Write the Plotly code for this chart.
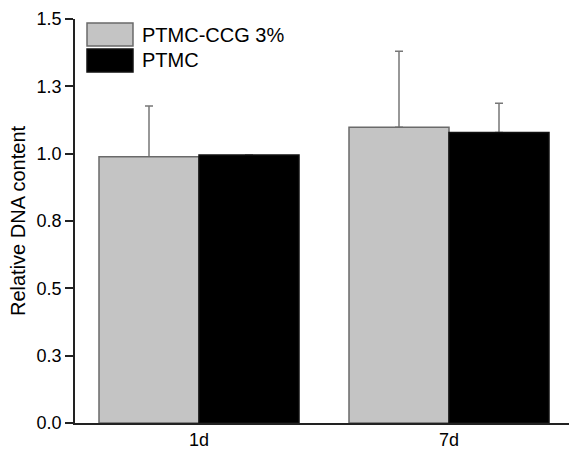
import plotly.graph_objects as go

categories = ["1d", "7d"]
series_names = ["PTMC-CCG 3%", "PTMC"]
ccg_values = [0.989, 1.098]
ccg_errors = [0.188, 0.282]
ptmc_values = [0.995, 1.079]
ptmc_errors = [0.0, 0.108]
y_tick_vals = [0, 0.25, 0.5, 0.75, 1.0, 1.25, 1.5]
y_tick_text = ["0.0", "0.3", "0.5", "0.8", "1.0", "1.3", "1.5"]

FONT = "Arial, 'Liberation Sans', sans-serif"
fills = ["#c4c4c4", "#000000"]
outlines = ["#6a6a6a", "#111111"]
groups = ["ccg", "ptmc"]
series = [(ccg_values, ccg_errors), (ptmc_values, ptmc_errors)]

fig = go.Figure()
# error-bar carriers first (transparent bars), so the real bars hide the lower caps
for (vals, errs), grp in zip(series, groups):
    fig.add_trace(go.Bar(
        x=categories, y=vals, offsetgroup=grp,
        marker=dict(color="rgba(0,0,0,0)", line=dict(width=0)),
        error_y=dict(type="data", array=errs, arrayminus=[0] * len(errs),
                     symmetric=False, visible=True,
                     color="#777777", thickness=1.5, width=4),
        showlegend=False, hoverinfo="skip",
    ))
for (vals, errs), grp, name, fc, lc in zip(series, groups, series_names, fills, outlines):
    fig.add_trace(go.Bar(
        x=categories, y=vals, name=name, offsetgroup=grp,
        marker=dict(color=fc, line=dict(color=lc, width=1.5)),
        showlegend=False,
    ))

# manual legend (large swatches as in the reference)
legend_rows = [(0.990, 0.933), (0.926, 0.869)]
for (y1, y0), name, fc, lc in zip(legend_rows, series_names, fills, outlines):
    fig.add_shape(type="rect", xref="paper", yref="paper",
                  x0=0.0243, x1=0.1174, y0=y0, y1=y1,
                  fillcolor=fc, line=dict(color=lc, width=1.5))
    fig.add_annotation(xref="paper", yref="paper", x=0.132, y=(y0 + y1) / 2,
                       text=name, showarrow=False, xanchor="left", yanchor="middle",
                       font=dict(family=FONT, size=20, color="#000"))

fig.update_layout(
    width=569, height=458,
    margin=dict(l=75, r=0, t=19, b=35),
    paper_bgcolor="white", plot_bgcolor="white",
    barmode="group", bargap=0.2, bargroupgap=0,
    font=dict(family=FONT, color="#000"),
)
fig.update_xaxes(
    range=[-0.496, 1.48], showline=True, linecolor="#222", linewidth=1.5,
    ticks="", showgrid=False, zeroline=False,
    tickfont=dict(family=FONT, size=18, color="#000"),
)
fig.update_yaxes(
    range=[0, 1.5], showline=True, linecolor="#222", linewidth=1.5,
    ticks="outside", ticklen=8, tickwidth=1.5, tickcolor="#222",
    tickvals=y_tick_vals, ticktext=y_tick_text,
    showgrid=False, zeroline=False,
    tickfont=dict(family=FONT, size=18, color="#000"),
    title=dict(text="Relative DNA content", font=dict(family=FONT, size=20, color="#000"), standoff=6),
)

fig.write_html("out.html")
